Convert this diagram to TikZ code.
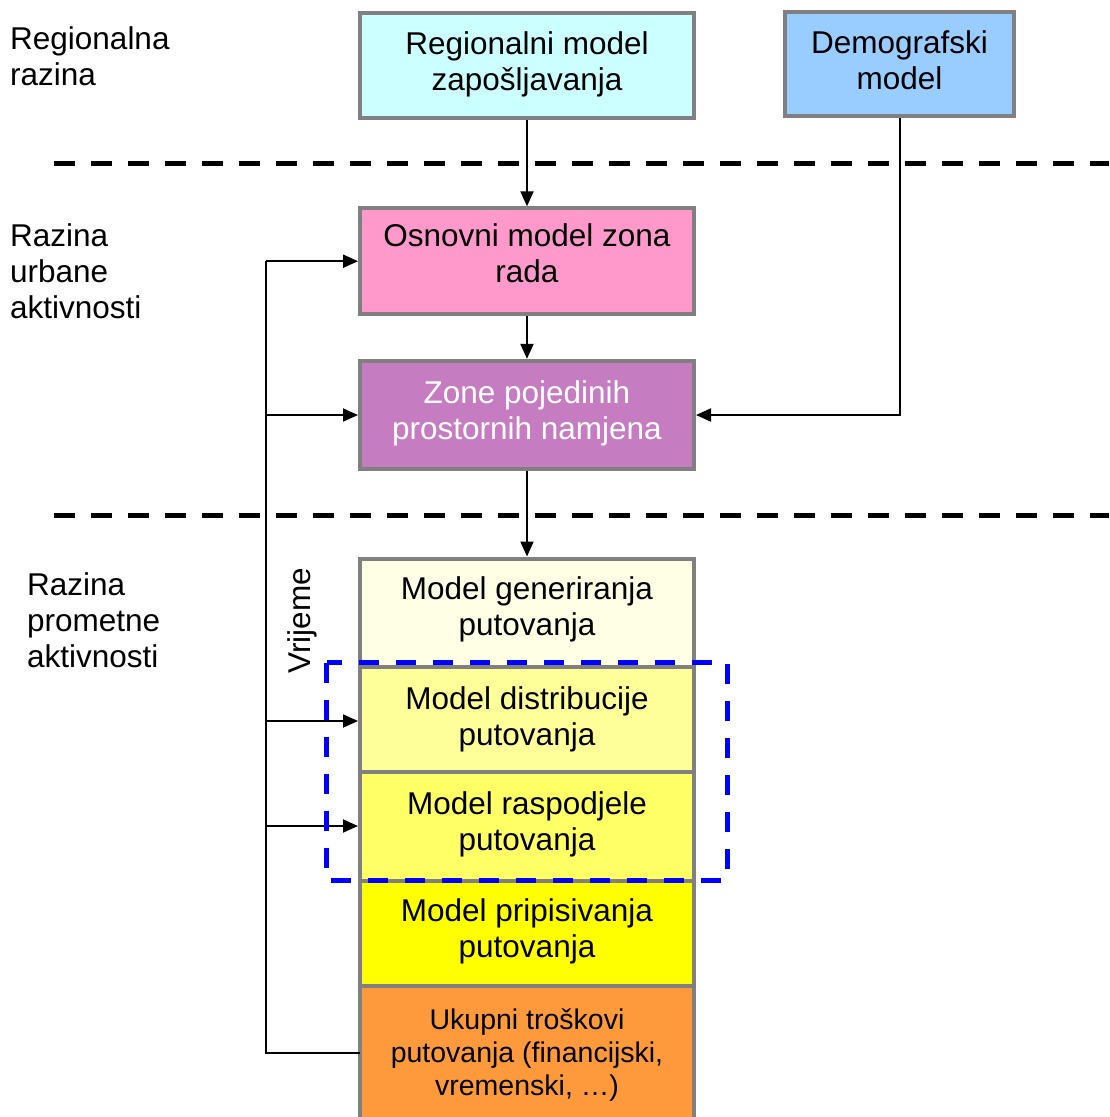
\documentclass[tikz,border=0pt]{standalone}
\usepackage{fontspec}
\setmainfont{Liberation Sans}
\usetikzlibrary{arrows.meta}
\definecolor{boxgray}{HTML}{808080}
\definecolor{regcol}{HTML}{CCFFFF}
\definecolor{demcol}{HTML}{99CCFF}
\definecolor{osncol}{HTML}{FF99CC}
\definecolor{zonecol}{HTML}{C67CC0}
\definecolor{gencol}{HTML}{FFFFE6}
\definecolor{distcol}{HTML}{FFFF99}
\definecolor{raspcol}{HTML}{FFFF66}
\definecolor{pripcol}{HTML}{FFFF00}
\definecolor{ukcol}{HTML}{FF9A3C}
\begin{document}
\begin{tikzpicture}[x=1pt,y=-1pt,
  box/.style={draw=boxgray, line width=4pt, minimum width=334pt, align=center,
              font=\fontsize{31.5}{36}\selectfont, inner sep=0pt},
  twoline/.style={text height=52pt, text depth=#1},
  arr/.style={line width=2pt, -{Triangle[length=15pt,width=13pt]}},
  conn/.style={line width=2.5pt},
  levelline/.style={line width=5pt, dash pattern=on 21pt off 16pt},
  lbl/.style={anchor=west, align=left, font=\fontsize{31.5}{36}\selectfont, inner sep=0pt},
  groupbox/.style={draw=blue, line width=5pt, dash pattern=on 20pt off 17pt}]
\useasboundingbox (0,0) rectangle (1109,1117);
\fill[white] (0,0) rectangle (1109,1117);

% level separators
\draw[levelline] (54,163) -- (1109,163);
\draw[levelline] (54,515) -- (1109,515);

% level labels
\node[lbl] (l1) at (10,56) {Regionalna\\razina};
\node[lbl] (l2) at (10,271) {Razina\\urbane\\aktivnosti};
\node[lbl] (l3) at (27,620) {Razina\\prometne\\aktivnosti};

% boxes
\node[box, twoline=1.4pt, fill=regcol, minimum height=105pt] (reg) at (527,65) {Regionalni model\\zapošljavanja};
\node[box, twoline=0.8pt, fill=demcol, minimum width=229pt, minimum height=104pt] (dem) at (899.5,64) {Demografski\\model};
\node[box, twoline=9.1pt, fill=osncol, minimum height=105.7pt] (osn) at (527,261.2) {Osnovni model zona\\rada};
\node[box, twoline=3.4pt, fill=zonecol, text=white, minimum height=108.4pt] (zone) at (527,415) {Zone pojedinih\\prostornih namjena};
\node[box, twoline=6.9pt, fill=gencol, minimum height=108.5pt] (gen) at (527,612.75) {Model generiranja\\putovanja};
\node[box, twoline=0.5pt, fill=distcol, minimum height=104.5pt] (dist) at (527,719.25) {Model distribucije\\putovanja};
\node[box, twoline=4pt, fill=raspcol, minimum height=109pt] (rasp) at (527,826) {Model raspodjele\\putovanja};
\node[box, twoline=2.6pt, fill=pripcol, minimum height=105pt] (prip) at (527,933) {Model pripisivanja\\putovanja};
\node[box, fill=ukcol, minimum height=139pt, font=\fontsize{28.5}{33}\selectfont] (uk) at (527,1055) {Ukupni troškovi\\putovanja (financijski,\\vremenski, …)};

% time label
\node[rotate=90, inner sep=0pt, font=\fontsize{31.5}{36}\selectfont] (vr) at (302,621) {Vrijeme};

% connectors
\draw[arr] (reg) -- (osn);
\draw[arr] (osn) -- (zone);
\draw[arr] (zone) -- (gen);
\draw[arr] (dem.south) |- (zone.east);

\coordinate (bus) at (266,0);
\coordinate (ukout) at (360,1053);
\draw[conn] (ukout) -| (bus |- osn.west);
\draw[arr] (bus |- osn.west) -- (osn.west);
\draw[arr] (bus |- zone.west) -- (zone.west);
\draw[arr] (bus |- 0,721) -- (dist.west |- 0,721);
\draw[arr] (bus |- rasp.west) -- (rasp.west);

% feedback group
\draw[groupbox] (326.5,662.5) rectangle (727,880.2);
\end{tikzpicture}
\end{document}
